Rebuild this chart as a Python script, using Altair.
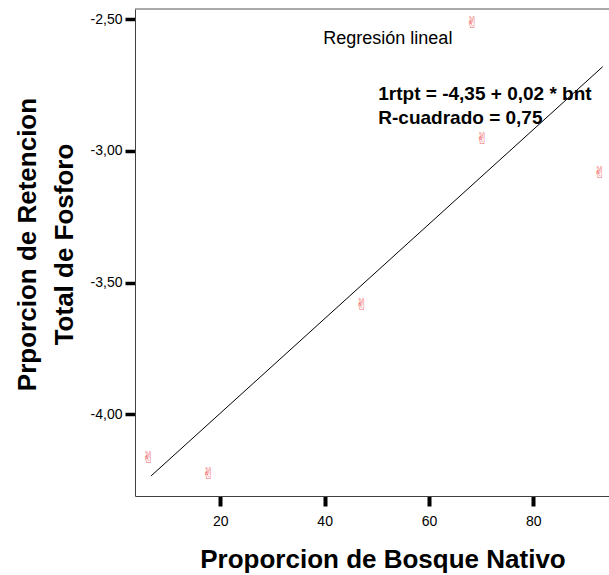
import altair as alt
import pandas as pd

# data
bnt = [6.25, 17.75, 47.1, 68.3, 70.2, 92.75]
rtpt = [-4.166, -4.228, -3.585, -2.514, -2.957, -3.083]
reg_bnt = [6.72, 93.3]
reg_rtpt = [-4.234, -2.681]
x_ticks = [20, 40, 60, 80]
y_ticks = [-2.5, -3.0, -3.5, -4.0]
x_title = "Proporcion de Bosque Nativo"
y_title = ["Prporcion de Retencion", "Total de Fosforo"]
annot_title = ["Regresión lineal"]
eq_lines = ["1rtpt = -4,35 + 0,02 * bnt", "R-cuadrado = 0,75"]

W, H = 474, 487
FONT = "Liberation Sans"

pts = pd.DataFrame({"bnt": bnt, "rtpt": rtpt, "m": ["\u270C"] * len(bnt)})
reg = pd.DataFrame({"bnt": reg_bnt, "rtpt": reg_rtpt})

xscale = alt.Scale(domain=[3.649, 94.51], nice=False, zero=False)
yscale = alt.Scale(domain=[-4.31, -2.462], nice=False, zero=False)

xaxis = alt.Axis(
    values=x_ticks, title=x_title, grid=False,
    domainColor="#404040", domainWidth=1,
    tickColor="black", tickWidth=4, tickSize=10,
    labelFont=FONT, labelFontSize=14, labelColor="black", labelPadding=8,
    labelFlush=False,
    titleFont=FONT, titleFontSize=26, titleFontWeight="bold", titleColor="black",
    titleX=247.5, titleY=71.7, titleBaseline="alphabetic", titleAlign="center",
)
yaxis = alt.Axis(
    values=y_ticks, title=y_title, grid=False,
    domainColor="#404040", domainWidth=1,
    tickColor="black", tickWidth=3.5, tickSize=10,
    labelFont=FONT, labelFontSize=14, labelColor="black", labelPadding=3,
    labelExpr="replace(replace(format(datum.value, '.2f'), '.', ','), '\u2212', '-')",
    labelFlush=False,
    titleFont=FONT, titleFontSize=26, titleFontWeight="bold", titleColor="black",
    titleAngle=270, titleX=-99.5, titleY=235, titleBaseline="alphabetic",
    titleAlign="center", titleLineHeight=36.5,
)

line = alt.Chart(reg).mark_line(color="black", strokeWidth=1).encode(
    x=alt.X("bnt:Q", scale=xscale, axis=xaxis),
    y=alt.Y("rtpt:Q", scale=yscale, axis=yaxis),
)

points = alt.Chart(pts).mark_text(
    font="DejaVu Sans", fontSize=16, color="#f06868", baseline="middle", align="center"
).encode(
    x=alt.X("bnt:Q", scale=xscale),
    y=alt.Y("rtpt:Q", scale=yscale),
    text="m:N",
)

top_rule = alt.Chart(pd.DataFrame({"a": [0]})).mark_rule(color="#555555", strokeWidth=1).encode(
    x=alt.value(0), x2=alt.value(W), y=alt.value(0)
)

annot = alt.Chart(pd.DataFrame({"t": annot_title})).mark_text(
    align="left", baseline="alphabetic", font=FONT, fontSize=18, color="black"
).encode(x=alt.value(188.3), y=alt.value(35), text="t:N")

eq = alt.Chart(pd.DataFrame({"a": [0]})).mark_text(
    text=eq_lines, align="left", baseline="alphabetic", font=FONT, fontSize=19,
    fontWeight="bold", color="black", lineHeight=24
).encode(x=alt.value(243.3), y=alt.value(91))

chart = alt.layer(line, points, top_rule, annot, eq).properties(
    width=W, height=H,
    autosize=alt.AutoSizeParams(type="none"),
    padding={"left": 135, "top": 9, "right": 0, "bottom": 79},
).configure_view(stroke=None)

chart.save("out.html", embed_options={"renderer": "svg", "actions": False})
